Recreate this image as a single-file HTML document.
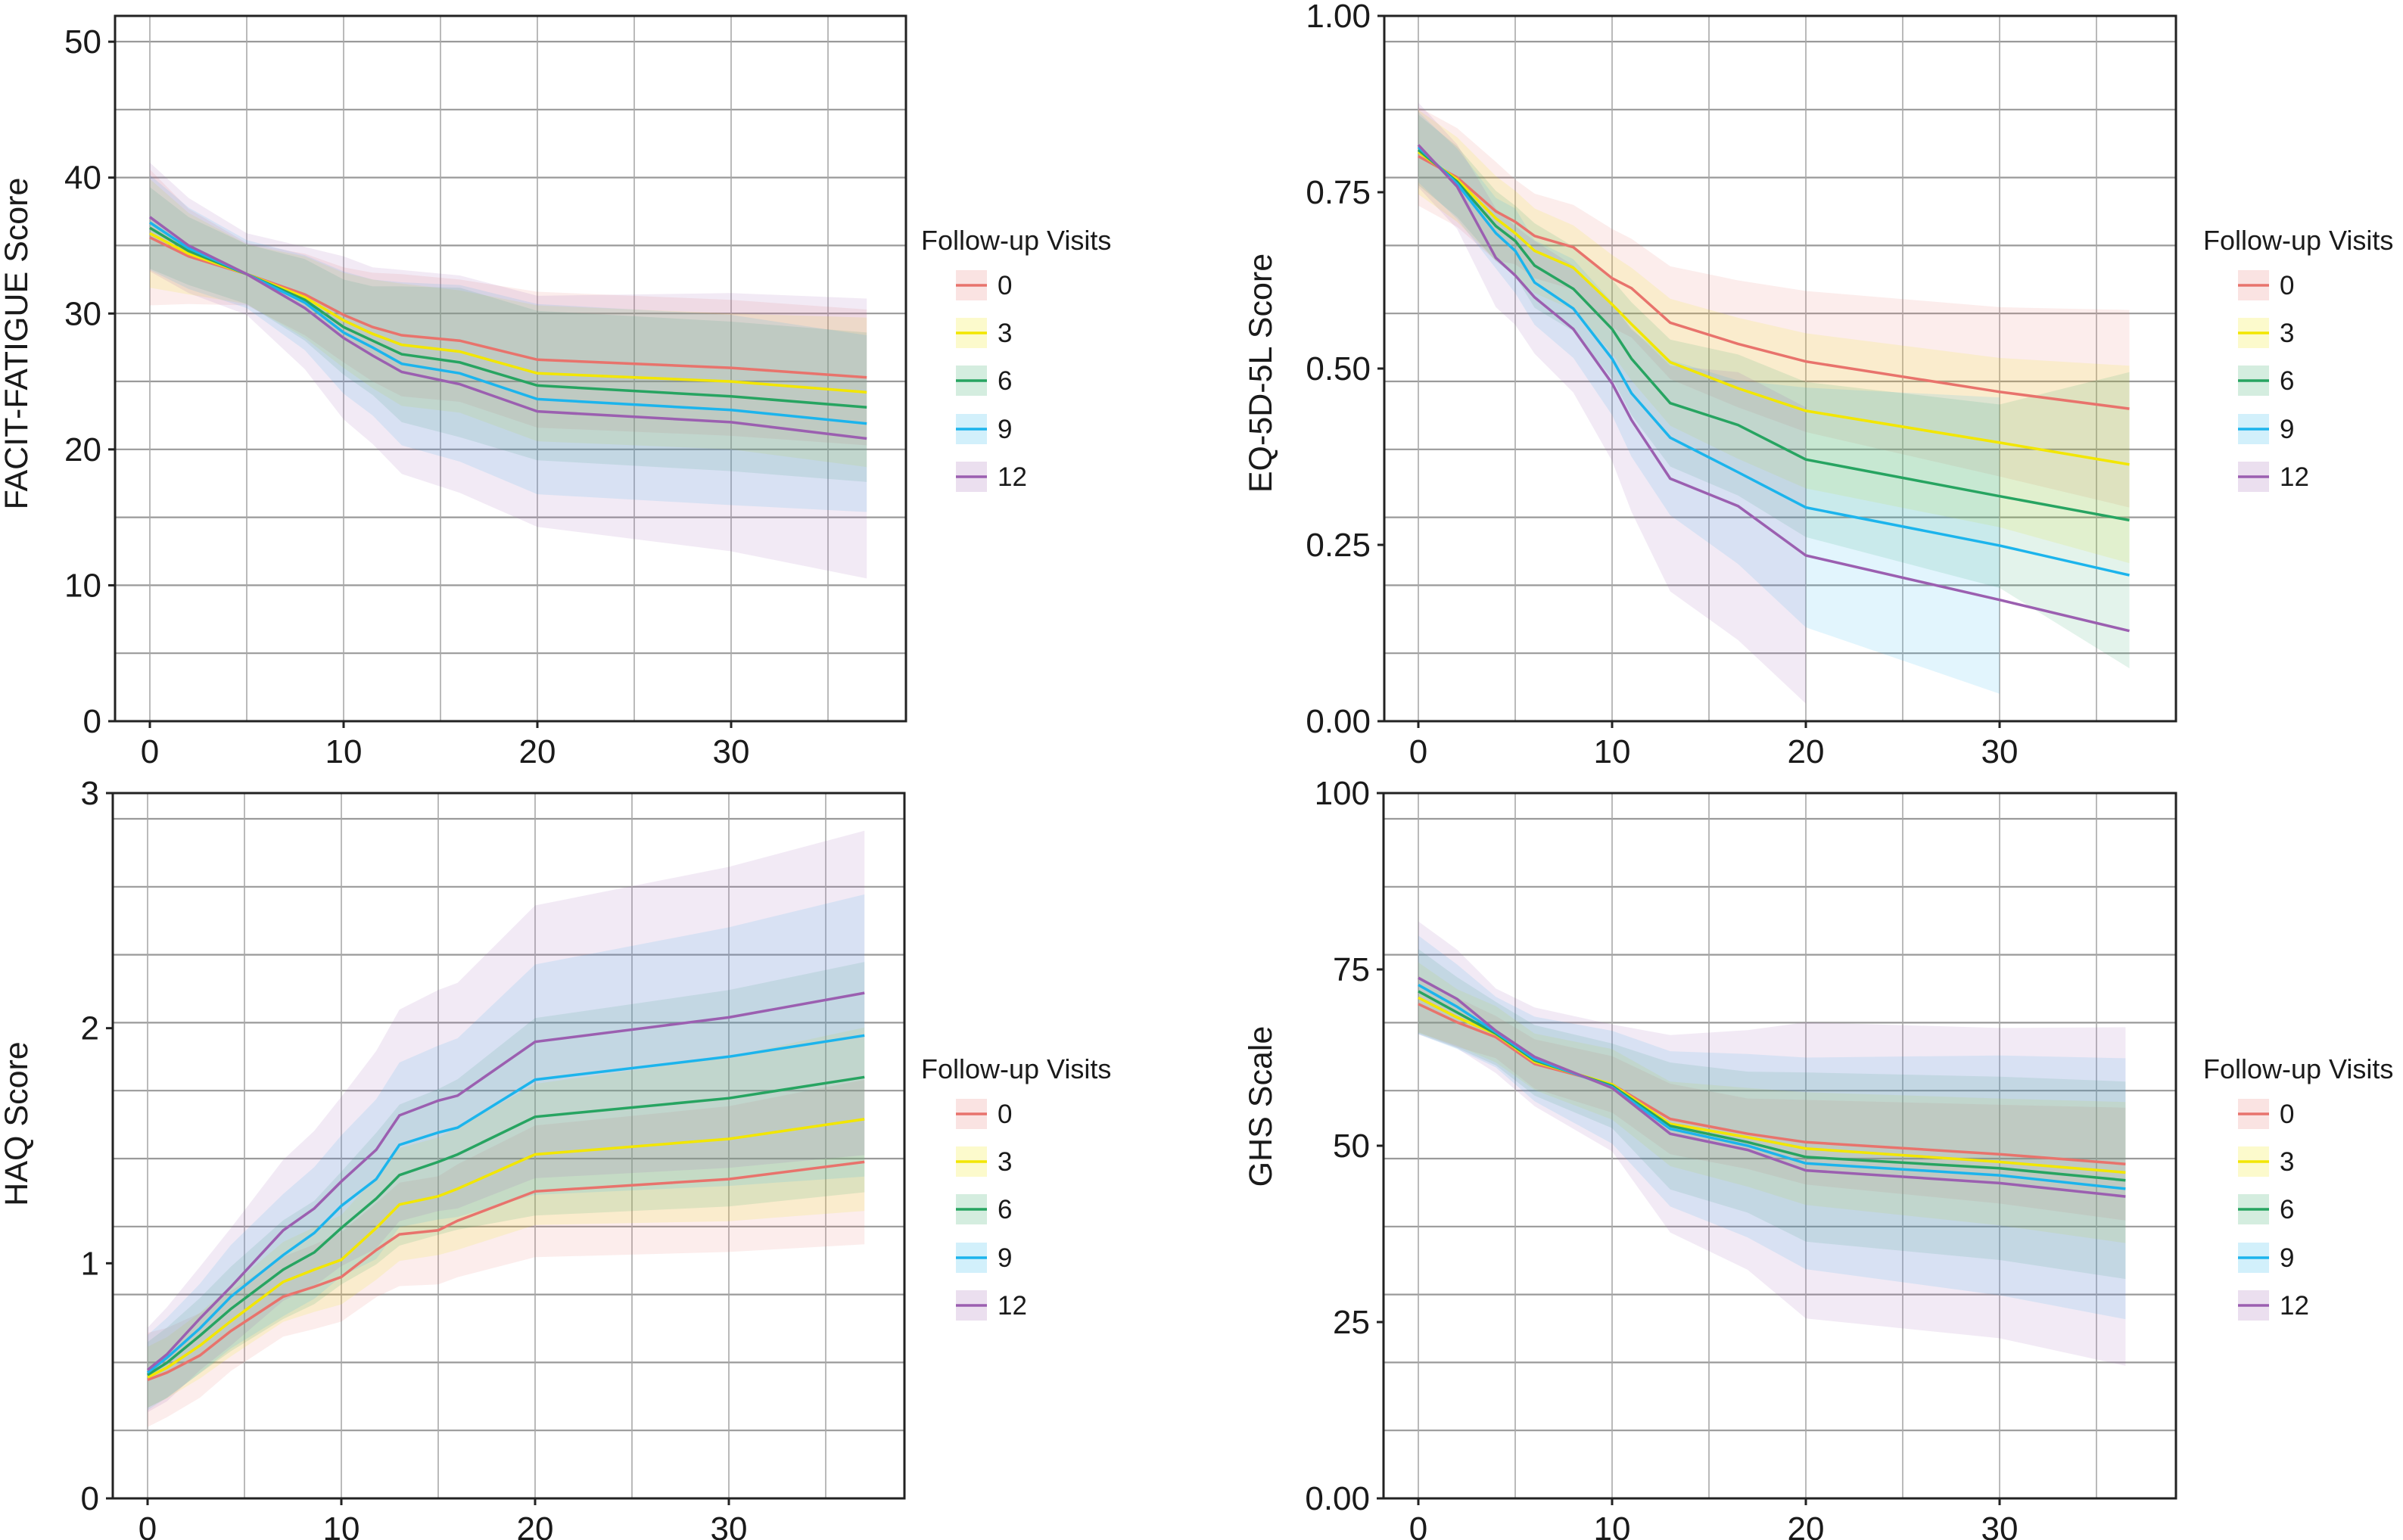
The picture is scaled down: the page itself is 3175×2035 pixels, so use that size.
<!DOCTYPE html>
<html><head><meta charset="utf-8"><style>
html,body{margin:0;padding:0;background:#fff;}
svg{display:block;font-family:"Liberation Sans",Arial,sans-serif;}
</style></head><body>
<svg id="fig" width="3175" height="2035" viewBox="0 0 3175 2035" xmlns="http://www.w3.org/2000/svg"></svg>
<script>
const seriesNames = ['0','3','6','9','12'];
const lineColors = ['#e8736c','#f2e600','#27a461','#1cb4ec','#9b5fb0'];
const xTickVals = [0,10,20,30];

const facitT = [0,2,5,8,10,11.5,13,16,20,30,37];
const facit0 = [35.6,34.2,32.9,31.4,29.9,29.0,28.4,28.0,26.6,26.0,25.3];
const facit3 = [35.9,34.4,32.9,31.2,29.5,28.5,27.7,27.2,25.6,25.0,24.2];
const facit6 = [36.3,34.6,32.9,31.0,29.0,28.0,27.0,26.4,24.7,23.9,23.1];
const facit9 = [36.7,34.8,32.9,30.8,28.6,27.5,26.3,25.6,23.7,22.9,21.9];
const facit12 = [37.1,35.0,32.9,30.4,28.2,26.9,25.7,24.8,22.8,22.0,20.8];
const facitHw0 = [5,3.5,2.3,3,3.5,4,4.5,4.5,5,5,5];
const facitHw3 = [4,3,2.2,3,3.5,4,4.5,4.5,5,5,5.5];
const facitHw6 = [3,2.5,2.2,3,3.5,4,5,5.5,5.5,5.5,5.5];
const facitHw9 = [3.5,3,2.5,3.5,4.5,5,6,6.5,7,7,6.5];
const facitHw12 = [4,3.5,3,4.5,6,6.5,7.5,8,8.5,9.5,10.3];
const facitTicks = [0,10,20,30,40,50];
const facitTickLabels = ['0','10','20','30','40','50'];

const eqT = [0,2,4,5,6,8,10,11,13,16.5,20,30,36.7];
const eq0 = [.801,.771,.723,.708,.688,.672,.628,.614,.565,.535,.510,.467,.443];
const eq3 = [.807,.768,.713,.692,.667,.643,.591,.563,.509,.472,.440,.395,.364];
const eq6 = [.810,.765,.702,.681,.646,.613,.556,.514,.451,.420,.371,.319,.285];
const eq9 = [.814,.762,.692,.667,.622,.585,.514,.465,.402,.353,.303,.249,.207];
const eq12 = [.817,.758,.657,.632,.601,.556,.479,.427,.344,.305,.235,.172,.128];
const eqHw0 = [.07,.07,.07,.06,.06,.06,.07,.07,.08,.09,.10,.12,.14];
const eqHw3 = [.06,.06,.06,.06,.06,.06,.07,.08,.09,.10,.11,.12,.14];
const eqHw6 = [.05,.05,.05,.05,.06,.06,.07,.08,.09,.10,.11,.13,.21];
const eqHw9 = [.05,.05,.05,.06,.06,.07,.08,.09,.11,.13,.17,.21,null];
const eqHw12 = [.06,.06,.07,.07,.08,.09,.11,.13,.16,.19,.21,null,null];
const eqTicks = [0,.25,.5,.75,1];
const eqTickLabels = ['0.00','0.25','0.50','0.75','1.00'];

const haqT = [0,1,2.7,4.3,7,8.6,10,11.8,13,15,16,20,30,37];
const haq0 = [.504,.535,.608,.712,.858,.900,.942,1.056,1.123,1.140,1.181,1.306,1.358,1.431];
const haq3 = [.515,.556,.65,.754,.921,.973,1.015,1.15,1.25,1.285,1.317,1.463,1.529,1.613];
const haq6 = [.525,.577,.692,.806,.973,1.046,1.150,1.275,1.375,1.431,1.463,1.623,1.702,1.792];
const haq9 = [.535,.598,.723,.858,1.035,1.129,1.244,1.358,1.504,1.556,1.577,1.781,1.879,1.969];
const haq12 = [.546,.613,.765,.90,1.140,1.233,1.348,1.483,1.629,1.692,1.713,1.942,2.046,2.15];
const haqHw0 = [.2,.19,.18,.17,.17,.18,.19,.2,.22,.23,.24,.28,.31,.35];
const haqHw3 = [.13,.13,.14,.15,.17,.18,.19,.22,.24,.25,.26,.3,.35,.39];
const haqHw6 = [.14,.15,.16,.18,.21,.22,.24,.28,.3,.31,.32,.42,.46,.49];
const haqHw9 = [.16,.17,.19,.22,.26,.28,.3,.34,.35,.37,.38,.49,.55,.6];
const haqHw12 = [.18,.2,.22,.25,.3,.33,.36,.42,.45,.47,.48,.58,.64,.69];
const haqTicks = [0,1,2,3];
const haqTickLabels = ['0','1','2','3'];

const ghsT = [0,2,4,6,10,13,17,20,30,36.5];
const ghs0 = [70.1,67.5,65.4,61.6,58.7,53.8,51.7,50.5,48.8,47.4];
const ghs3 = [71.0,68.2,65.8,61.9,58.7,53.1,51.2,49.6,47.7,46.2];
const ghs6 = [71.9,68.9,65.9,62.1,58.5,52.8,50.5,48.4,46.8,45.1];
const ghs9 = [72.8,69.7,66.1,62.3,58.3,52.4,50.0,47.5,45.8,43.9];
const ghs12 = [73.8,70.8,66.3,62.6,58.2,51.7,49.4,46.5,44.7,42.8];
const ghsHw0 = [4,3.5,3,3.5,4,5,5,6,7,8];
const ghsHw3 = [5,4,4,4,5,6,7,8,9,10];
const ghsHw6 = [6,5,4.5,5,6,9,10,12,13,14];
const ghsHw9 = [7,6,5,6,8,11,13,15,17,18.5];
const ghsHw12 = [8,7,6,7,9,14,17,21,22,24];
const ghsTicks = [0,25,50,75,100];
const ghsTickLabels = ['0.00','25','50','75','100'];

const NS='http://www.w3.org/2000/svg';
const svg=document.getElementById('fig');
function mk(tag,attrs,parent){const e=document.createElementNS(NS,tag);for(const k in attrs)e.setAttribute(k,attrs[k]);(parent||svg).appendChild(e);return e;}

function panel(o){
  const g=mk('g',{});
  
  
  const k=25.6;
  const xS=v=>o.x0+v*k;
  const yS=v=>o.bot-(v-o.ymin)/(o.ymax-o.ymin)*(o.bot-o.top);
  for(let i=1;i<=10;i++){
    const l=mk('line',{x1:o.l,x2:o.r,y1:o.bot-i*89.8,y2:o.bot-i*89.8,stroke:'#9a9a9a','stroke-width':2.2},g);
    
    
  }
  for(let v=0;v<=35;v+=5){
    const l=mk('line',{x1:xS(v),x2:xS(v),y1:o.top,y2:o.bot,stroke:'#a8a8a8','stroke-width':1.6},g);
    
    
  }
  o.means.forEach((m,si)=>{
    const hw=o.hws[si];const up=[],lo=[];
    o.ts.forEach((tv,i)=>{if(hw[i]!=null){up.push([xS(tv),yS(m[i]+hw[i])]);lo.push([xS(tv),yS(Math.max(o.ymin,m[i]-hw[i]))]);}});
    const pts=up.concat(lo.reverse()).map(p=>p[0].toFixed(1)+','+p[1].toFixed(1)).join(' ');
    const p=mk('polygon',{points:pts,fill:lineColors[si],'fill-opacity':0.13,stroke:'none'},g);
    
    
  });
  o.means.forEach((m,si)=>{
    const pts=o.ts.map((tv,i)=>xS(tv).toFixed(1)+','+yS(m[i]).toFixed(1)).join(' ');
    const p=mk('polyline',{points:pts,fill:'none',stroke:lineColors[si],'stroke-width':3.5},g);
    
    
  });
  const f=mk('rect',{x:o.l,y:o.top,width:o.r-o.l,height:o.bot-o.top,fill:'none',stroke:'#222','stroke-width':3},g);
  
  
  o.ticks.forEach((v,i)=>{
    mk('line',{x1:o.l-9,x2:o.l,y1:yS(v),y2:yS(v),stroke:'#222','stroke-width':3},g);
    const tx=mk('text',{x:o.l-18,y:yS(v)+15,'text-anchor':'end','font-size':44,fill:'#1a1a1a'},g);
    tx.textContent=o.labels[i];
    
    
  });
  xTickVals.forEach(v=>{
    mk('line',{x1:xS(v),x2:xS(v),y1:o.bot,y2:o.bot+9,stroke:'#222','stroke-width':3},g);
    const tx=mk('text',{x:xS(v),y:o.bot+55,'text-anchor':'middle','font-size':44,fill:'#1a1a1a'},g);
    tx.textContent=String(v);
    
    
  });
  const yt=mk('text',{x:0,y:0,'text-anchor':'middle','font-size':43,fill:'#1a1a1a',transform:`translate(${o.ytx},${o.yty}) rotate(-90)`},g);
  yt.textContent=o.title;
  
  
  const lg=mk('g',{},g);
  
  
  const lt=mk('text',{x:o.lx,y:o.ly,'font-size':36,fill:'#1a1a1a'},lg);
  lt.textContent='Follow-up Visits';
  
  
  const ys=[47,110,173,237,300];
  seriesNames.forEach((s,i)=>{
    const e=mk('g',{},lg);
    
    
    const cy=o.ly+ys[i];
    mk('rect',{x:o.lx+46,y:cy-20,width:41,height:40,fill:lineColors[i],'fill-opacity':0.2},e);
    mk('line',{x1:o.lx+46,x2:o.lx+87,y1:cy,y2:cy,stroke:lineColors[i],'stroke-width':3.5},e);
    const t=mk('text',{x:o.lx+101,y:cy+12,'font-size':35,fill:'#1a1a1a'},e);
    t.textContent=s;
  });
}

panel({name:'facit',l:152,r:1197,top:21,bot:953,x0:198,ymin:0,ymax:51.9,ts:facitT,
  means:[facit0,facit3,facit6,facit9,facit12],hws:[facitHw0,facitHw3,facitHw6,facitHw9,facitHw12],
  ticks:facitTicks,labels:facitTickLabels,title:'FACIT-FATIGUE Score',ytx:36,yty:454,lx:1217,ly:330});
panel({name:'eq5d',l:1829,r:2875,top:21,bot:953,x0:1874,ymin:0,ymax:1,ts:eqT,
  means:[eq0,eq3,eq6,eq9,eq12],hws:[eqHw0,eqHw3,eqHw6,eqHw9,eqHw12],
  ticks:eqTicks,labels:eqTickLabels,title:'EQ-5D-5L Score',ytx:1680,yty:493,lx:2911,ly:330});
panel({name:'haq',l:149,r:1195,top:1048,bot:1980,x0:195,ymin:0,ymax:3,ts:haqT,
  means:[haq0,haq3,haq6,haq9,haq12],hws:[haqHw0,haqHw3,haqHw6,haqHw9,haqHw12],
  ticks:haqTicks,labels:haqTickLabels,title:'HAQ Score',ytx:36,yty:1485,lx:1217,ly:1425});
panel({name:'ghs',l:1828,r:2875,top:1048,bot:1980,x0:1874,ymin:0,ymax:100,ts:ghsT,
  means:[ghs0,ghs3,ghs6,ghs9,ghs12],hws:[ghsHw0,ghsHw3,ghsHw6,ghsHw9,ghsHw12],
  ticks:ghsTicks,labels:ghsTickLabels,title:'GHS Scale',ytx:1680,yty:1462,lx:2911,ly:1425});
</script>
</body></html>
